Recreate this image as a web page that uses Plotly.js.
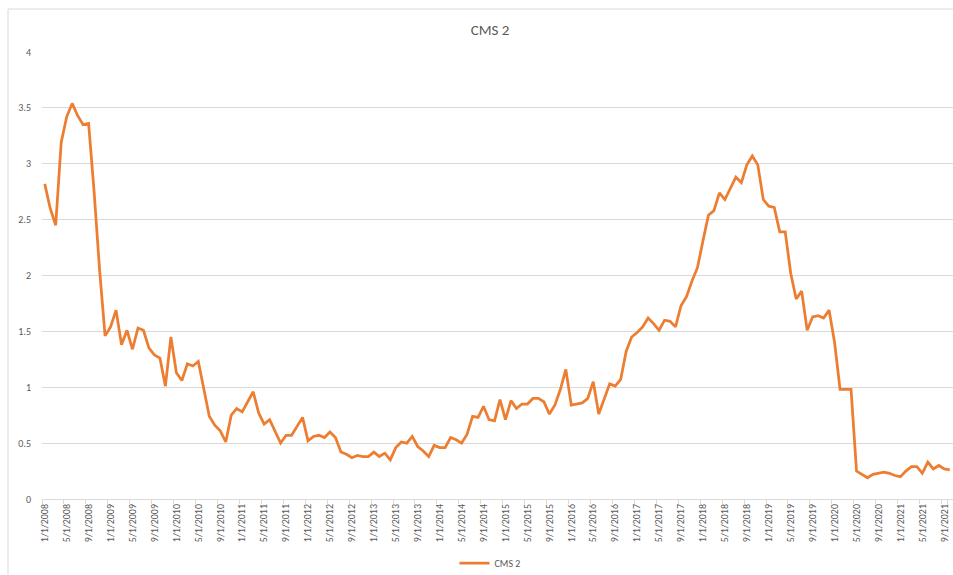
<!DOCTYPE html>
<html>
<head>
<meta charset="utf-8">
<script src="https://cdn.plot.ly/plotly-3.0.1.min.js"></script>
<style>
  html, body { margin: 0; padding: 0; background: #ffffff; }
  #chart { width: 953px; height: 575px; }
</style>
</head>
<body>
<div id="chart"></div>
<script>
// Monthly series, first month Jan 2008
const startYear = 2008;
const startMonth = 1;

const seriesName = "CMS 2";

const cms2 = [
  2.82, 2.60, 2.45, 3.19, 3.42, 3.54, 3.43, 3.35, 3.36, 2.75, 2.05, 1.46,
  1.54, 1.69, 1.38, 1.51, 1.34, 1.53, 1.51, 1.35, 1.29, 1.26, 1.01, 1.45,
  1.13, 1.06, 1.21, 1.19, 1.23, 0.98, 0.74, 0.66, 0.61, 0.51, 0.75, 0.81,
  0.78, 0.87, 0.96, 0.77, 0.67, 0.71, 0.61, 0.50, 0.57, 0.57, 0.65, 0.73,
  0.52, 0.56, 0.57, 0.55, 0.60, 0.55, 0.42, 0.40, 0.37, 0.39, 0.38, 0.38,
  0.42, 0.38, 0.41, 0.35, 0.46, 0.51, 0.50, 0.56, 0.47, 0.43, 0.38, 0.48,
  0.46, 0.46, 0.55, 0.53, 0.50, 0.58, 0.74, 0.73, 0.83, 0.71, 0.70, 0.89,
  0.71, 0.88, 0.81, 0.85, 0.85, 0.90, 0.90, 0.87, 0.76, 0.84, 0.98, 1.16,
  0.84, 0.85, 0.86, 0.90, 1.05, 0.76, 0.90, 1.03, 1.01, 1.07, 1.32, 1.45,
  1.49, 1.54, 1.62, 1.57, 1.51, 1.60, 1.59, 1.54, 1.73, 1.81, 1.95, 2.07,
  2.31, 2.54, 2.58, 2.74, 2.68, 2.78, 2.88, 2.83, 2.99, 3.07, 2.99, 2.68,
  2.62, 2.61, 2.39, 2.39, 2.02, 1.79, 1.86, 1.51, 1.63, 1.64, 1.62, 1.69,
  1.40, 0.98, 0.98, 0.98, 0.25, 0.22, 0.19, 0.22, 0.23, 0.24, 0.23, 0.21,
  0.20, 0.25, 0.29, 0.29, 0.23, 0.33, 0.27, 0.30, 0.27, 0.26
];

const yTickVals = [0, 0.5, 1, 1.5, 2, 2.5, 3, 3.5, 4];
const yTickText = ["0", "0.5", "1", "1.5", "2", "2.5", "3", "3.5", "4"];

// category labels M/1/YYYY
const dates = cms2.map((_, i) => {
  const m0 = (startMonth - 1) + i;
  const y = startYear + Math.floor(m0 / 12);
  const m = (m0 % 12) + 1;
  return m + "/1/" + y;
});
const xTickVals = dates.filter((_, i) => i % 4 === 0);

const fontFam = "Carlito, 'Liberation Sans Narrow', 'Liberation Sans', Arial, sans-serif";
const grid = "#d9d9d9";

const trace = {
  type: "scatter",
  mode: "lines",
  name: seriesName,
  x: dates,
  y: cms2,
  line: { color: "#ED7D31", width: 2.75 },
  hoverinfo: "x+y"
};

const L = 42, T = 52, B = 76, R = 0;
const W = 953 - L - R, H = 575 - T - B;

const layout = {
  width: 953,
  height: 575,
  margin: { l: L, r: R, t: T, b: B, pad: 0 },
  paper_bgcolor: "#ffffff",
  plot_bgcolor: "#ffffff",
  font: { family: fontFam, color: "#595959", size: 10 },
  title: {
    text: "CMS 2",
    font: { family: fontFam, size: 15, color: "#595959" },
    xref: "paper", x: (490 - L) / W, xanchor: "center",
    yref: "container", y: 1 - 30 / 575, yanchor: "middle"
  },
  showlegend: true,
  legend: {
    orientation: "h",
    xref: "paper", x: (490 - L) / W, xanchor: "center",
    yref: "container", y: 1 - 563 / 575, yanchor: "middle",
    font: { family: fontFam, size: 10, color: "#595959" },
    bgcolor: "rgba(0,0,0,0)"
  },
  xaxis: {
    type: "category",
    range: [-0.5, -0.5 + W / 5.485],
    tickmode: "array",
    tickvals: xTickVals,
    ticktext: xTickVals,
    tickangle: -90,
    tickson: "boundaries",
    ticks: "outside",
    ticklen: 4,
    tickcolor: grid,
    showgrid: false,
    showline: true,
    linecolor: grid,
    linewidth: 1,
    zeroline: false,
    tickfont: { family: fontFam, size: 10, color: "#595959" },
    fixedrange: true
  },
  yaxis: {
    range: [0, 4],
    tickmode: "array",
    tickvals: yTickVals,
    ticktext: yTickText,
    showgrid: true,
    gridcolor: grid,
    gridwidth: 1,
    zeroline: false,
    showline: false,
    ticks: "",
    ticklabelstandoff: 10,
    tickfont: { family: fontFam, size: 10, color: "#595959" },
    fixedrange: true
  },
  shapes: [{
    type: "rect",
    xref: "paper", yref: "paper",
    x0: (8 - L) / W, x1: 1.05,
    y0: -(600 - (T + H)) / H, y1: (T + H - 9) / H,
    line: { color: grid, width: 1 },
    fillcolor: "rgba(0,0,0,0)",
    layer: "below"
  }]
};

Plotly.newPlot("chart", [trace], layout, { staticPlot: true, displayModeBar: false });
</script>
</body>
</html>
